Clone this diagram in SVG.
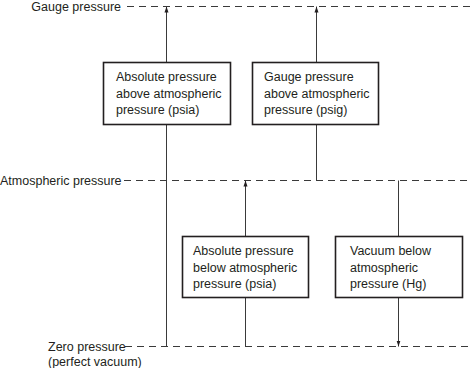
<svg xmlns="http://www.w3.org/2000/svg" width="470" height="368" viewBox="0 0 470 368">
<style>
text{font-family:"Liberation Sans",Arial,sans-serif;font-size:12.5px;fill:#231f20}
.lvl{stroke:#3a3a3a;stroke-width:1;stroke-dasharray:7 5;fill:none}
.con{stroke:#3a3a3a;stroke-width:1;fill:none}
.box{fill:#fff;stroke:#231f20;stroke-width:1.6}
</style>
<defs>
<marker id="ah" viewBox="0 0 6 6" refX="6" refY="3" markerWidth="6" markerHeight="6" markerUnits="userSpaceOnUse" orient="auto">
<path d="M0,1 L6,3 L0,5 Z" fill="#231f20"/>
</marker>
</defs>
<g id="levels">
<line class="lvl" x1="127" y1="6.5" x2="470" y2="6.5"/>
<line class="lvl" x1="124" y1="180.5" x2="470" y2="180.5"/>
<line class="lvl" x1="125" y1="346.5" x2="470" y2="346.5"/>
</g>
<g id="level-labels">
<text x="121" y="11" text-anchor="end">Gauge pressure</text>
<text x="0" y="185">Atmospheric pressure</text>
<text x="48" y="351">Zero pressure</text>
<text x="48" y="366">(perfect vacuum)</text>
</g>
<g id="connectors">
<line class="con" x1="166.5" y1="346.5" x2="166.5" y2="6.5" marker-end="url(#ah)"/>
<line class="con" x1="316.5" y1="180.5" x2="316.5" y2="6.5" marker-end="url(#ah)"/>
<line class="con" x1="245.5" y1="346.5" x2="245.5" y2="180.5" marker-end="url(#ah)"/>
<line class="con" x1="398.5" y1="180.5" x2="398.5" y2="346.5" marker-end="url(#ah)"/>
</g>
<g id="abs-above">
<rect class="box" x="103.5" y="62.5" width="127" height="62"/>
<text x="116" y="81">Absolute pressure</text>
<text x="116" y="97.5">above atmospheric</text>
<text x="116" y="114">pressure (psia)</text>
</g>
<g id="gauge-above">
<rect class="box" x="252.5" y="62.5" width="126" height="62"/>
<text x="264" y="81">Gauge pressure</text>
<text x="264" y="97.5">above atmospheric</text>
<text x="264" y="114">pressure (psig)</text>
</g>
<g id="abs-below">
<rect class="box" x="182.5" y="236.5" width="126" height="61"/>
<text x="193" y="255">Absolute pressure</text>
<text x="193" y="271.5">below atmospheric</text>
<text x="193" y="288">pressure (psia)</text>
</g>
<g id="vacuum-below">
<rect class="box" x="335.5" y="236.5" width="127" height="61"/>
<text x="350" y="255">Vacuum below</text>
<text x="350" y="271.5">atmospheric</text>
<text x="350" y="288">pressure (Hg)</text>
</g>
</svg>
